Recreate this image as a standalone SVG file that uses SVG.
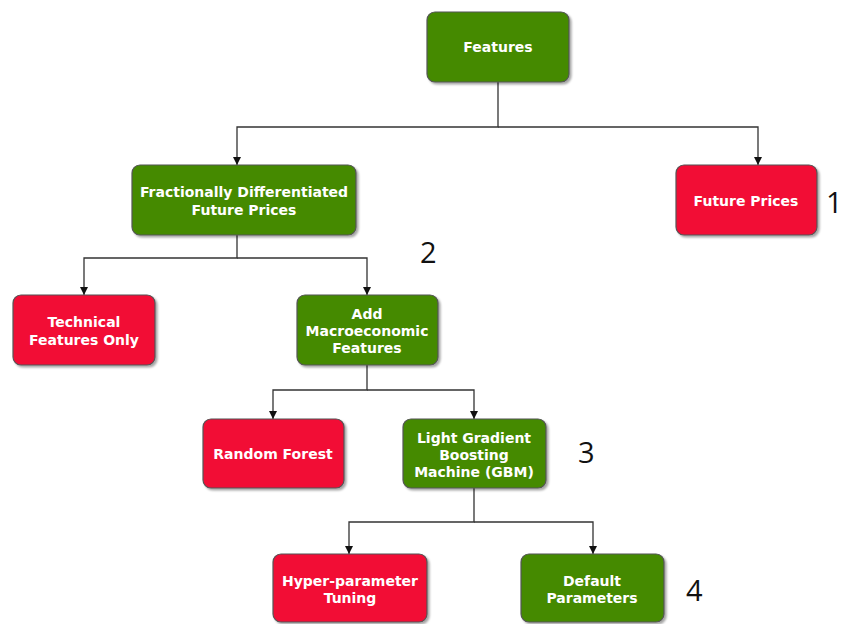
<svg xmlns="http://www.w3.org/2000/svg" width="841" height="624" viewBox="0 0 841 624">
<defs>
<marker id="arr" markerWidth="10" markerHeight="10" refX="9" refY="5" orient="auto" markerUnits="userSpaceOnUse">
<path d="M1,1 L9,5 L1,9 Z" fill="#111"/>
</marker>
<filter id="sh" x="-10%" y="-10%" width="130%" height="130%">
<feDropShadow dx="2" dy="2" stdDeviation="1.2" flood-color="#000" flood-opacity="0.35"/>
</filter>
</defs>
<style>
.g{fill:#448a05;stroke:#555;stroke-width:1.2;filter:url(#sh)}
.r{fill:#f20a35;stroke:#555;stroke-width:1.2;filter:url(#sh)}
.t{font-family:"DejaVu Sans",Verdana,sans-serif;font-weight:bold;font-size:14px;fill:#fff;text-anchor:middle}
.n{font-family:"Open Sans","Liberation Sans",sans-serif;font-size:29px;fill:#111}
.c{fill:none;stroke:#333;stroke-width:1.3}
</style>
<rect width="841" height="624" fill="#fff"/>
<g id="connectors">
<path class="c" d="M498,82 V127 H237 V165" marker-end="url(#arr)"/>
<path class="c" d="M498,127 H758 V165" marker-end="url(#arr)"/>
<path class="c" d="M237,235 V258 H84 V295" marker-end="url(#arr)"/>
<path class="c" d="M237,258 H367 V295" marker-end="url(#arr)"/>
<path class="c" d="M367,365 V390 H273 V419" marker-end="url(#arr)"/>
<path class="c" d="M367,390 H474 V419" marker-end="url(#arr)"/>
<path class="c" d="M474,488 V522 H349 V554" marker-end="url(#arr)"/>
<path class="c" d="M474,522 H593 V554" marker-end="url(#arr)"/>
</g>
<g id="features">
<rect class="g" x="427" y="12" width="142" height="70" rx="8"/>
<text class="t" x="498" y="52">Features</text>
</g>
<g id="fracdiff">
<rect class="g" x="132" y="165" width="224" height="70" rx="8"/>
<text class="t" x="244" y="197">Fractionally Differentiated</text>
<text class="t" x="244" y="215">Future Prices</text>
</g>
<g id="futureprices">
<rect class="r" x="676" y="165" width="141" height="70" rx="8"/>
<text class="t" x="746" y="206">Future Prices</text>
<text class="n" x="826" y="213">1</text>
</g>
<g id="technical">
<rect class="r" x="13" y="295" width="142" height="70" rx="8"/>
<text class="t" x="84" y="327">Technical</text>
<text class="t" x="84" y="345">Features Only</text>
</g>
<g id="macro">
<rect class="g" x="297" y="295" width="141" height="70" rx="8"/>
<text class="t" x="367" y="319">Add</text>
<text class="t" x="367" y="336">Macroeconomic</text>
<text class="t" x="367" y="353">Features</text>
<text class="n" x="420" y="263">2</text>
</g>
<g id="randomforest">
<rect class="r" x="203" y="419" width="141" height="69" rx="8"/>
<text class="t" x="273" y="459">Random Forest</text>
</g>
<g id="lgbm">
<rect class="g" x="403" y="419" width="143" height="69" rx="8"/>
<text class="t" x="474" y="443">Light Gradient</text>
<text class="t" x="474" y="460">Boosting</text>
<text class="t" x="474" y="477">Machine (GBM)</text>
<text class="n" x="578" y="463">3</text>
</g>
<g id="hyper">
<rect class="r" x="273" y="554" width="154" height="68" rx="8"/>
<text class="t" x="350" y="586">Hyper-parameter</text>
<text class="t" x="350" y="603">Tuning</text>
</g>
<g id="default">
<rect class="g" x="521" y="554" width="143" height="68" rx="8"/>
<text class="t" x="592" y="586">Default</text>
<text class="t" x="592" y="603">Parameters</text>
<text class="n" x="686" y="601">4</text>
</g>
</svg>
